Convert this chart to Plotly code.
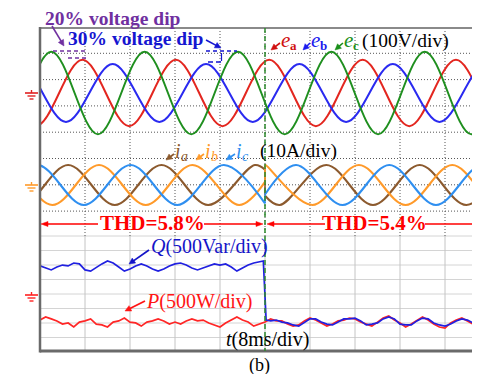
import math
import plotly.graph_objects as go

# ---------------- data ----------------
# time in ms (8 ms/div); values in V, A, W/Var
# grid voltages: times of peaks/troughs and their values
t_ec = [-14.6, -6.3, 2.0, 10.3, 18.6, 26.9, 35.2, 43.5, 51.8, 60.1, 68.4, 76.7, 85.0, 93.3]
v_ec = [157, -157, 157, -157, 157, -157, 157, -157, 157, -157, 157, -157, 157, -157]
t_ea = [-9.05, -0.75, 7.55, 15.85, 24.15, 32.45, 40.75, 49.05, 57.35, 65.65, 73.95, 82.25, 90.55]
v_ea = [126, -126, 126, -126, 126, -126, 126, -126, 126, -126, 126, -126, 126]
t_eb = [-11.98, -3.68, 4.62, 12.92, 21.22, 29.52, 37.82, 46.12, 54.42, 62.72, 71.02, 79.32, 87.62]
v_eb = [-110, 110, -110, 110, -110, 110, -110, 110, -110, 110, -110, 110, -110]

# currents before / after the dip instant (40 ms)
t_ia1 = [-11.6, -3.3, 5.0, 13.3, 21.6, 29.9, 38.2, 40.0]
v_ia1 = [7.6, -7.6, 7.6, -7.6, 7.6, -7.6, 7.6, 5.8]
t_ia2 = [40.0, 42.6, 50.9, 59.2, 67.5, 75.8, 84.1, 92.4]
v_ia2 = [-4.1, -7.6, 7.6, -7.6, 7.6, -7.6, 7.6, -7.6]
t_ib1 = [-14.4, -6.1, 2.2, 10.5, 18.8, 27.1, 35.4, 40.0]
v_ib1 = [-7.6, 7.6, -7.6, 7.6, -7.6, 7.6, -7.6, 1.2]
t_ib2 = [40.0, 40.1, 48.4, 56.7, 65.0, 73.3, 81.6, 89.9]
v_ib2 = [7.5, 7.6, -7.6, 7.6, -7.6, 7.6, -7.6, 7.6]
t_ic1 = [-8.8, -0.5, 7.8, 16.1, 24.4, 32.7, 40.0]
v_ic1 = [-7.6, 7.6, -7.6, 7.6, -7.6, 7.6, -7.0]
t_ic2 = [40.0, 45.5, 53.8, 62.1, 70.4, 78.7, 87.0, 95.3]
v_ic2 = [-3.6, 7.6, -7.6, 7.6, -7.6, 7.6, -7.6, 7.6]

# active power P (W), sampled every 1 ms
t_p = list(range(0, 81))
v_p = [-870, -760, -830, -900, -1010, -970, -1110, -940, -900, -830,
       -1010, -1040, -1110, -940, -900, -800, -940, -970, -1080, -940,
       -900, -830, -900, -1010, -940, -1010, -900, -830, -900, -870,
       -970, -1040, -1110, -970, -870, -760, -870, -940, -1080, -1010,
       -940, -830, -900, -900, -1010, -1080, -1040, -900, -800, -870,
       -970, -1080, -1010, -900, -870, -800, -830, -940, -1010, -1080,
       -940, -800, -730, -870, -970, -1110, -1010, -870, -760, -870,
       -1010, -1110, -1150, -970, -870, -800, -900, -1010, -1080, -970,
       -900]
# reactive power Q (Var)
t_q = list(range(0, 40)) + [39.7, 40.2] + list(range(41, 81))
v_q = [1010, 940, 870, 970, 1040, 1010, 1110, 1080, 870, 830,
       970, 1080, 1180, 1110, 970, 830, 900, 1010, 1080, 1010,
       900, 830, 900, 1010, 1080, 1110, 1040, 940, 870, 940,
       1010, 1080, 1040, 1080, 970, 830, 940, 1040, 1110, 1150,
       1180, -870,
       -900, -870, -940, -970, -1040, -1080, -940, -830, -830, -940,
       -1010, -1040, -940, -830, -830, -800, -900, -1040, -1010, -970,
       -830, -760, -830, -1010, -1040, -1040, -900, -800, -830, -970,
       -1040, -1080, -1010, -900, -830, -870, -970, -1040, -1010, -940]

t_event = 40.0
grid_t = [8, 16, 24, 32, 40, 48, 56, 64, 72]

# ---------------- geometry / styles ----------------
W, H = 480, 374
L, T, B = 32, 20, 343
PX_PER_MS = 45 / 8
X_MAX = (W - L) / PX_PER_MS

def sy(Y):
    return Y - T

def px(X):
    return (X - L) / (W - L)

def py(Y):
    return (B - Y) / (B - T)

V_ZERO, V_SCALE = 85, 26.3 / 100
I_ZERO, I_SCALE = 177, 26.3 / 10
P_ZERO, P_SCALE = 287, 14.4 / 500

def ch(vals, zero, scale):
    return [sy(zero) - v * scale for v in vals]

FONT = "Liberation Serif"
C_EA, C_EB, C_EC = "#e3261f", "#2a2af0", "#1f8f1f"
C_IA, C_IB, C_IC = "#8c5a2e", "#ff9a2a", "#2f8ff0"
C_P, C_Q = "#ff2626", "#2020e0"

fig = go.Figure()

def wave(t, v, zero, scale, color, width=1.7, spline=True):
    line = dict(color=color, width=width)
    if spline:
        line.update(shape="spline", smoothing=1)
    fig.add_trace(go.Scatter(x=t, y=ch(v, zero, scale), mode="lines", line=line,
                             hoverinfo="skip", showlegend=False))

wave(t_ea, v_ea, V_ZERO, V_SCALE, C_EA, 2)
wave(t_eb, v_eb, V_ZERO, V_SCALE, C_EB, 2)
wave(t_ec, v_ec, V_ZERO, V_SCALE, C_EC, 2)

for (t1, v1, t2, v2, c) in [(t_ia1, v_ia1, t_ia2, v_ia2, C_IA),
                             (t_ib1, v_ib1, t_ib2, v_ib2, C_IB),
                             (t_ic1, v_ic1, t_ic2, v_ic2, C_IC)]:
    wave(t1, v1, I_ZERO, I_SCALE, c, 2.1)
    wave(t2, v2, I_ZERO, I_SCALE, c, 2.1)
    wave([t1[-1], t2[0]], [v1[-1], v2[0]], I_ZERO, I_SCALE, c, 1.6, spline=False)

wave(t_p, v_p, P_ZERO, P_SCALE, C_P, 1.7, spline=False)
wave(t_q, v_q, P_ZERO, P_SCALE, C_Q, 1.7, spline=False)

shapes = []

def seg(X0, Y0, X1, Y1, color, width=1, dash=None, layer="above"):
    line = dict(color=color, width=width)
    if dash:
        line["dash"] = dash
    shapes.append(dict(type="line", xref="paper", yref="paper",
                       x0=px(X0), y0=py(Y0), x1=px(X1), y1=py(Y1), line=line, layer=layer))

def arrow(X0, Y0, X1, Y1, color, width=1.5, hl=6, hw=3):
    dx, dy = X1 - X0, Y1 - Y0
    n = math.hypot(dx, dy)
    ux, uy = dx / n, dy / n
    bx, by = X1 - ux * hl, Y1 - uy * hl
    seg(X0, Y0, bx + ux * 1, by + uy * 1, color, width)
    p1 = (bx - uy * hw, by + ux * hw)
    p2 = (bx + uy * hw, by - ux * hw)
    path = "M {:.5f},{:.5f} L {:.5f},{:.5f} L {:.5f},{:.5f} Z".format(
        px(X1), py(Y1), px(p1[0]), py(p1[1]), px(p2[0]), py(p2[1]))
    shapes.append(dict(type="path", xref="paper", yref="paper", path=path,
                       fillcolor=color, line=dict(color=color, width=0.5), layer="above"))

# grids
UP_Y = [45.3, 71.6, 97.9, 124.2, 150.5, 176.8, 203.1]
LOW_Y = [228, 242.5, 257, 271.5, 286, 300.5, 315, 329.5]
for Y in LOW_Y:
    shapes.append(dict(type="line", xref="x", yref="y", x0=0, x1=X_MAX, y0=sy(Y), y1=sy(Y),
                       line=dict(color="#d4d4d4", width=1), layer="below"))
for g in grid_t:
    shapes.append(dict(type="line", xref="x", yref="y", x0=g, x1=g, y0=sy(228), y1=sy(B),
                       line=dict(color="#c4c4c4", width=1), layer="below"))
    shapes.append(dict(type="line", xref="x", yref="y", x0=g, x1=g, y0=0, y1=sy(228),
                       line=dict(color="#555555", width=1, dash="1px,2px"), layer="below"))
for Y in UP_Y:
    shapes.append(dict(type="line", xref="x", yref="y", x0=0, x1=X_MAX, y0=sy(Y), y1=sy(Y),
                       line=dict(color="#555555", width=1, dash="1px,2px"), layer="below"))

# frame
seg(L, T, W, T, "#8a8a8a", 2)
seg(L, B, W, B, "#6a6a6a", 3)
seg(L, T - 1, L, B + 1.5, "#6a6a6a", 2.5)

# event line
shapes.append(dict(type="line", xref="x", yref="y", x0=t_event, x1=t_event, y0=0, y1=sy(B),
                   line=dict(color="#2e8b2e", width=1.5, dash="5px,3px"), layer="above"))

# ground markers
def ground(Y, color):
    seg(17, Y, 30, Y, color, 1.6)
    seg(23.5, Y - 3, 23.5, Y, color, 1.4)
    seg(19.5, Y + 3, 27.5, Y + 3, color, 1.4)
    seg(21.5, Y + 6, 25.5, Y + 6, color, 1.4)

ground(V_ZERO, "#e02020")
ground(I_ZERO, "#ff9a2a")
ground(P_ZERO, "#ff2020")

# dip markers
PURPLE, DBLUE = "#7030a0", "#1515d0"
seg(45, 43, 78, 43, PURPLE, 1.5, "4px,3px")
seg(60, 50, 78, 50, PURPLE, 1.5, "4px,3px")
seg(198, 43, 229, 43, DBLUE, 1.5, "4px,3px")
seg(200, 54, 214, 54, DBLUE, 1.5, "5px,3px")
seg(213.5, 45, 213.5, 53, DBLUE, 1.2)

ann = []

def text(s, X, Y, color="#000000", size=20, anchor="left", bold=False):
    if bold:
        s = "<b>" + s + "</b>"
    ann.append(dict(text=s, xref="paper", yref="paper", x=px(X), y=py(Y), xanchor=anchor,
                    yanchor="middle", showarrow=False, borderpad=0,
                    font=dict(family=FONT, size=size, color=color)))

text("20% voltage dip", 36, 10, PURPLE, 19.5, bold=True)
arrow(44, 18, 56, 38, PURPLE, 1.6)
text("30% voltage dip", 59, 30, DBLUE, 19.5, bold=True)
arrow(198, 32, 213, 40, DBLUE, 1.6)

# voltage labels: italic symbol + separate subscript
for (sym, sub, X, col, aX) in [("e", "a", 272, "#d01010", 263),
                               ("e", "b", 302, "#1a1aee", 295),
                               ("e", "c", 335, "#1a8f1a", 327)]:
    text("<i>" + sym + "</i>", X, 32, col, 21)
    text(sub, X + 9, 38, col, 13, bold=True)
    arrow(X, 35, aX, 42, col, 1.6)
text("(100V/div)", 353, 33, "#000000", 19.5)

# current labels
for (sub, X, col, aX) in [("a", 166, C_IA, 158), ("b", 196, C_IB, 188), ("c", 227, C_IC, 218)]:
    text("<i>i</i>", X, 143, col, 20)
    text("<i>" + sub + "</i>", X + 6, 148, col, 14)
    arrow(X, 146, aX, 152, col, 1.6)
text("(10A/div)", 251, 143, "#000000", 19.5)

text("THD=5.8%", 144, 215, "#ff0000", 21, anchor="center", bold=True)
text("THD=5.4%", 366, 215, "#ff0000", 21, anchor="center", bold=True)
arrow(90, 216, 33, 216, "#ff0000", 1.3, 7, 2.5)
arrow(196, 216, 255, 216, "#ff0000", 1.3, 7, 2.5)
arrow(317, 216, 259, 216, "#ff0000", 1.3, 7, 2.5)
arrow(417, 216, 478, 216, "#ff0000", 1.3, 7, 2.5)

text("<i>Q</i>(500Var/div)", 142, 238, "#1515c8", 20)
arrow(141, 242, 121, 256, "#1515c8", 1.8)
text("<i>P</i>(500W/div)", 137, 293, "#ff1515", 20)
arrow(137, 293, 117, 303, "#ff1515", 1.8)
text("<i>t</i>(8ms/div)", 217, 331, "#000000", 20)
text("(b)", 251, 357, "#000000", 18, anchor="center")

fig.update_layout(
    width=W, height=H,
    margin=dict(l=L, r=0, t=T, b=H - B, pad=0),
    paper_bgcolor="white", plot_bgcolor="white",
    xaxis=dict(range=[0, X_MAX], showgrid=False, zeroline=False, showticklabels=False,
               ticks="", showline=False, fixedrange=True),
    yaxis=dict(range=[sy(B), 0], showgrid=False, zeroline=False, showticklabels=False,
               ticks="", showline=False, fixedrange=True),
    shapes=shapes, annotations=ann, showlegend=False,
)

fig.write_html("out.html")
